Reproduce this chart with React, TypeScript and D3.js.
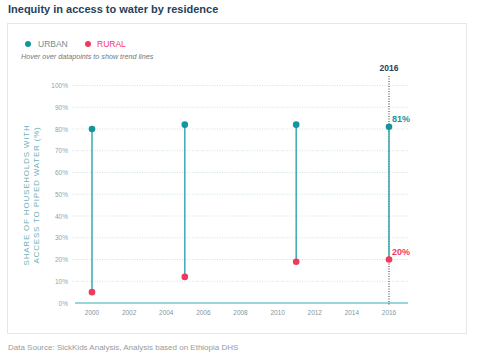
import React from "react";
import * as d3 from "d3";

const years = [2000, 2005, 2011, 2016];
const urban = [80, 82, 82, 81];
const rural = [5, 12, 19, 20];
const xTicks = [2000, 2002, 2004, 2006, 2008, 2010, 2012, 2014, 2016];
const yTicks = [0, 10, 20, 30, 40, 50, 60, 70, 80, 90, 100];

const TEAL = "#13969b";
const LINE = "#39a9b3";
const RED = "#ef3a5d";

export default function App() {
  const x = d3.scaleLinear().domain([2000, 2016]).range([92, 389]);
  const y = d3.scaleLinear().domain([0, 100]).range([303, 85.5]);
  const font = "Arial, 'Liberation Sans', sans-serif";
  const last = years.length - 1;
  return (
    <svg width={484} height={356} style={{ position: "absolute", left: 0, top: 0 }} fontFamily={font}>
      <rect x={0} y={0} width={484} height={356} fill="#fff" />
      <text x={8} y={13} fontSize={11} fontWeight="bold" fill="#25425a">
        Inequity in access to water by residence
      </text>
      <rect x={7.5} y={23.5} width={459} height={310} fill="#fff" stroke="#e6e6e6" />
      {/* legend */}
      <circle cx={28} cy={44} r={3} fill={TEAL} />
      <text x={38} y={47} fontSize={8.5} fill="#6a8f96">URBAN</text>
      <circle cx={88} cy={44} r={3} fill={RED} />
      <text x={97} y={47} fontSize={8.5} fill={RED}>RURAL</text>
      <text x={21} y={59} fontSize={7.2} fontStyle="italic" fill="#6b7b80">
        Hover over datapoints to show trend lines
      </text>
      {/* grid */}
      {yTicks.map((t) => (
        <g key={t}>
          {t > 0 && (
            <line x1={72} x2={408} y1={y(t)} y2={y(t)} stroke="#cfe3e6" strokeDasharray="1,1.5" />
          )}
          <text x={68} y={y(t) + 2.5} fontSize={6.5} textAnchor="end" fill="#8fa4aa">
            {t}%
          </text>
        </g>
      ))}
      <line x1={75} x2={408} y1={y(0)} y2={y(0)} stroke={LINE} strokeWidth={1.2} />
      {xTicks.map((t) => (
        <text key={t} x={x(t)} y={315} fontSize={6.5} textAnchor="middle" fill="#7f989e">
          {t}
        </text>
      ))}
      <text transform="translate(30,195) rotate(-90)" fontSize={8} textAnchor="middle" fill="#6fb0b6" letterSpacing={0.8}>
        <tspan x={0} dy={-1}>SHARE OF HOUSEHOLDS WITH</tspan>
        <tspan x={0} dy={9.5}>ACCESS TO PIPED WATER (%)</tspan>
      </text>
      {/* 2016 marker */}
      <line x1={x(2016)} x2={x(2016)} y1={76} y2={306} stroke="#333" strokeDasharray="1,1.5" />
      <text x={x(2016)} y={71} fontSize={8.5} fontWeight="bold" textAnchor="middle" fill="#25425a">
        2016
      </text>
      {/* dumbbells */}
      {years.map((yr, i) => (
        <g key={yr}>
          <line x1={x(yr)} x2={x(yr)} y1={y(urban[i])} y2={y(rural[i])} stroke={LINE} strokeWidth={1.5} />
          <circle cx={x(yr)} cy={y(urban[i])} r={3.3} fill={TEAL} />
          <circle cx={x(yr)} cy={y(rural[i])} r={3.3} fill={RED} />
        </g>
      ))}
      <text x={x(years[last]) + 3} y={y(urban[last]) - 5} fontSize={9} fontWeight="bold" fill={TEAL}>
        {urban[last]}%
      </text>
      <text x={x(years[last]) + 3} y={y(rural[last]) - 5} fontSize={9} fontWeight="bold" fill={RED}>
        {rural[last]}%
      </text>
      <text x={8} y={350} fontSize={8} fill="#9a9a9a">
        Data Source: SickKids Analysis, Analysis based on Ethiopia DHS
      </text>
    </svg>
  );
}
